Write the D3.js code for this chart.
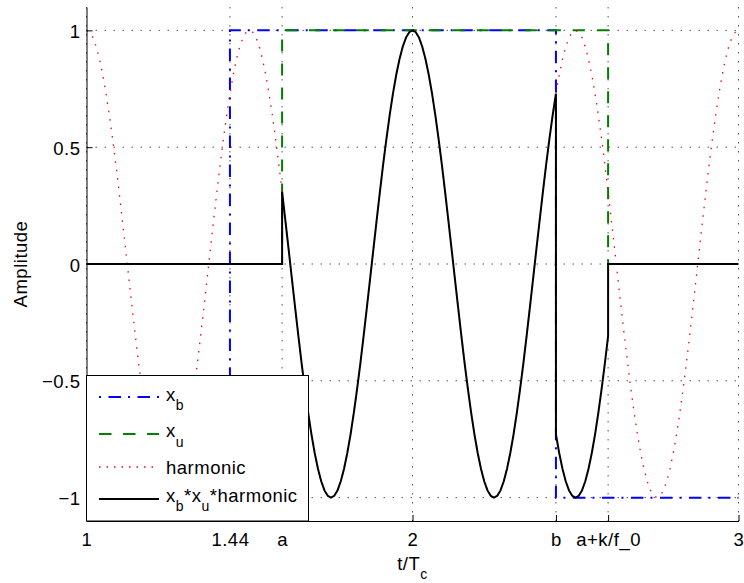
<!DOCTYPE html>
<html>
<head>
<meta charset="utf-8">
<script src="https://cdn.jsdelivr.net/npm/d3@7"></script>
<style>
  body { margin: 0; background: #fff; }
  text { font-family: "Liberation Sans", Arial, Helvetica, sans-serif; }
</style>
</head>
<body>
<div id="chart-area"></div>
<script>
// time axis ticks (t/T_c) and their labels
var xTickValues = [1, 1.44, 1.6, 2, 2.44, 2.6, 3];
var xTickLabels = ["1", "1.44", "a", "2", "b", "a+k/f_0", "3"];
var yTickValues = [-1, -0.5, 0, 0.5, 1];
var yTickLabels = ["\u22121", "\u22120.5", "0", "0.5", "1"];

// rectangular windows: switching times and the level held in between
var xbEdges = [1.44, 2.44];
var xbLevels = [-1, 1, -1];
var xuEdges = [1.6, 2.6];
var xuLevels = [0, 1, 0];

// harmonic, one sample every 0.01 from t = 1 to t = 3
var harmonicStart = 1;
var harmonicStep = 0.01;
var harmonicValues = [
  1, 0.992, 0.969, 0.93, 0.876, 0.809, 0.729, 0.637, 0.536, 0.426, 0.309, 0.187, 0.063, -0.063, -0.187, -0.309, -0.426, -0.536, -0.637, -0.729, -0.809, -0.876, -0.93, -0.969, -0.992,
  -1, -0.992, -0.969, -0.93, -0.876, -0.809, -0.729, -0.637, -0.536, -0.426, -0.309, -0.187, -0.063, 0.063, 0.187, 0.309, 0.426, 0.536, 0.637, 0.729, 0.809, 0.876, 0.93, 0.969, 0.992,
  1, 0.992, 0.969, 0.93, 0.876, 0.809, 0.729, 0.637, 0.536, 0.426, 0.309, 0.187, 0.063, -0.063, -0.187, -0.309, -0.426, -0.536, -0.637, -0.729, -0.809, -0.876, -0.93, -0.969, -0.992,
  -1, -0.992, -0.969, -0.93, -0.876, -0.809, -0.729, -0.637, -0.536, -0.426, -0.309, -0.187, -0.063, 0.063, 0.187, 0.309, 0.426, 0.536, 0.637, 0.729, 0.809, 0.876, 0.93, 0.969, 0.992,
  1, 0.992, 0.969, 0.93, 0.876, 0.809, 0.729, 0.637, 0.536, 0.426, 0.309, 0.187, 0.063, -0.063, -0.187, -0.309, -0.426, -0.536, -0.637, -0.729, -0.809, -0.876, -0.93, -0.969, -0.992,
  -1, -0.992, -0.969, -0.93, -0.876, -0.809, -0.729, -0.637, -0.536, -0.426, -0.309, -0.187, -0.063, 0.063, 0.187, 0.309, 0.426, 0.536, 0.637, 0.729, 0.809, 0.876, 0.93, 0.969, 0.992,
  1, 0.992, 0.969, 0.93, 0.876, 0.809, 0.729, 0.637, 0.536, 0.426, 0.309, 0.187, 0.063, -0.063, -0.187, -0.309, -0.426, -0.536, -0.637, -0.729, -0.809, -0.876, -0.93, -0.969, -0.992,
  -1, -0.992, -0.969, -0.93, -0.876, -0.809, -0.729, -0.637, -0.536, -0.426, -0.309, -0.187, -0.063, 0.063, 0.187, 0.309, 0.426, 0.536, 0.637, 0.729, 0.809, 0.876, 0.93, 0.969, 0.992,
  1
];

var legendLabels = ["x_b", "x_u", "harmonic", "x_b*x_u*harmonic"];

var width = 744, height = 583;
var margin = { left: 86.5, right: 738.5, top: 7, bottom: 521 };
var fontSize = 18.5;

var x = d3.scaleLinear().domain([1, 3]).range([margin.left, margin.right]);
var y = d3.scaleLinear().domain([-1.1, 1.1]).range([margin.bottom, margin.top]);

var svg = d3
  .select("#chart-area")
  .append("svg")
  .attr("xmlns", "http://www.w3.org/2000/svg")
  .attr("width", width)
  .attr("height", height)
  .style("display", "block");

svg.append("rect").attr("width", width).attr("height", height).attr("fill", "#fff");

// dotted grid
var grid = svg.append("g").attr("stroke", "#555").attr("stroke-width", 1).attr("stroke-dasharray", "1.5,7.5");
grid.selectAll(".vgrid")
  .data(xTickValues)
  .enter()
  .append("line")
  .attr("x1", function (d) { return x(d); })
  .attr("x2", function (d) { return x(d); })
  .attr("y1", margin.top)
  .attr("y2", margin.bottom);
grid.selectAll(".hgrid")
  .data(yTickValues)
  .enter()
  .append("line")
  .attr("x1", margin.left)
  .attr("x2", margin.right)
  .attr("y1", function (d) { return y(d); })
  .attr("y2", function (d) { return y(d); });

function stepPoints(edges, levels) {
  var pts = [[x.domain()[0], levels[0]]];
  edges.forEach(function (e, i) {
    pts.push([e, levels[i]]);
    pts.push([e, levels[i + 1]]);
  });
  pts.push([x.domain()[1], levels[levels.length - 1]]);
  return pts;
}

var harmonicPts = harmonicValues.map(function (v, i) {
  return [+(harmonicStart + i * harmonicStep).toFixed(2), v];
});

// x_b * x_u * harmonic, with both one-sided values kept at each switching time
var productPts = [];
harmonicPts.forEach(function (p) {
  var t = p[0];
  var before = xbLevels[d3.bisectLeft(xbEdges, t)] * xuLevels[d3.bisectLeft(xuEdges, t)] * p[1];
  var after = xbLevels[d3.bisectRight(xbEdges, t)] * xuLevels[d3.bisectRight(xuEdges, t)] * p[1];
  productPts.push([t, before]);
  if (after !== before) productPts.push([t, after]);
});

var line = d3.line()
  .x(function (d) { return x(d[0]); })
  .y(function (d) { return y(d[1]); });

var series = [
  { pts: stepPoints(xbEdges, xbLevels), color: "#0000ff", w: 2, dash: "12.5,7,2,7.5", legendDash: "2,7.5,12.5,7" },
  { pts: stepPoints(xuEdges, xuLevels), color: "#008000", w: 2, dash: "12,12", legendDash: "12.5,11.5" },
  { pts: harmonicPts, color: "#ff0000", w: 1.3, dash: "1.5,7", legendDash: "1.5,6" },
  { pts: productPts, color: "#000000", w: 2, dash: null, legendDash: null }
];

svg.selectAll(".series")
  .data(series)
  .enter()
  .append("path")
  .attr("class", "series")
  .attr("d", function (d) { return line(d.pts); })
  .attr("fill", "none")
  .attr("stroke", function (d) { return d.color; })
  .attr("stroke-width", function (d) { return d.w; })
  .attr("stroke-dasharray", function (d) { return d.dash; });

// axes
var xAxis = d3.axisBottom(x)
  .tickValues(xTickValues)
  .tickFormat(function (d, i) { return xTickLabels[i]; })
  .tickSizeInner(-6)
  .tickSizeOuter(0)
  .tickPadding(12);
var gx = svg.append("g").attr("transform", "translate(0," + margin.bottom + ")").call(xAxis);

var yAxis = d3.axisLeft(y)
  .tickValues(yTickValues)
  .tickFormat(function (d, i) { return yTickLabels[i]; })
  .tickSizeInner(-6)
  .tickSizeOuter(0)
  .tickPadding(6);
var gy = svg.append("g").attr("transform", "translate(" + margin.left + ",0)").call(yAxis);

[gx, gy].forEach(function (g) {
  g.select(".domain").attr("stroke", "#000").attr("stroke-width", 1);
  g.selectAll(".tick line").attr("stroke", "#000");
  g.selectAll("text")
    .attr("fill", "#000")
    .style("font-size", fontSize + "px")
    .style("letter-spacing", "0.5px")
    .style("font-family", "'Liberation Sans', Arial, sans-serif");
});
gy.selectAll("text").attr("dy", "0.38em");

// text with TeX-like subscripts ("_x")
function addRich(sel, str) {
  var parts = [];
  for (var i = 0; i < str.length; i++) {
    if (str[i] === "_" && i + 1 < str.length) {
      parts.push({ t: str[i + 1], sub: true });
      i++;
    } else if (parts.length && !parts[parts.length - 1].sub) {
      parts[parts.length - 1].t += str[i];
    } else {
      parts.push({ t: str[i], sub: false });
    }
  }
  var shift = 0;
  parts.forEach(function (p) {
    var target = p.sub ? 9.5 : 0;
    sel.append("tspan")
      .attr("dy", target - shift)
      .style("font-size", p.sub ? "14px" : fontSize + "px")
      .text(p.t);
    shift = target;
  });
}

svg.append("text")
  .attr("x", x(2))
  .attr("y", 569.5)
  .attr("text-anchor", "middle")
  .style("letter-spacing", "0.5px")
  .call(addRich, "t/T_c");

svg.append("text")
  .attr("transform", "translate(27," + (margin.top + margin.bottom) / 2 + ") rotate(-90)")
  .attr("text-anchor", "middle")
  .style("font-size", fontSize + "px")
  .style("letter-spacing", "0.5px")
  .text("Amplitude");

// legend
var legend = svg.append("g");
legend.append("rect")
  .attr("x", 86.5)
  .attr("y", 375.5)
  .attr("width", 222)
  .attr("height", margin.bottom - 375.5)
  .attr("fill", "#fff")
  .attr("stroke", "#000")
  .attr("stroke-width", 1);

var rowY = [397, 434, 467, 499];
var baseY = [400.5, 437, 473.5, 501.5];
legendLabels.forEach(function (label, i) {
  var s = series[i];
  legend.append("line")
    .attr("x1", 99)
    .attr("x2", 159)
    .attr("y1", rowY[i])
    .attr("y2", rowY[i])
    .attr("stroke", s.color)
    .attr("stroke-width", s.w)
    .attr("stroke-dasharray", s.legendDash);
  legend.append("text")
    .attr("x", 166)
    .attr("y", baseY[i])
    .style("letter-spacing", "0.5px")
    .call(addRich, label);
});
</script>
</body>
</html>
